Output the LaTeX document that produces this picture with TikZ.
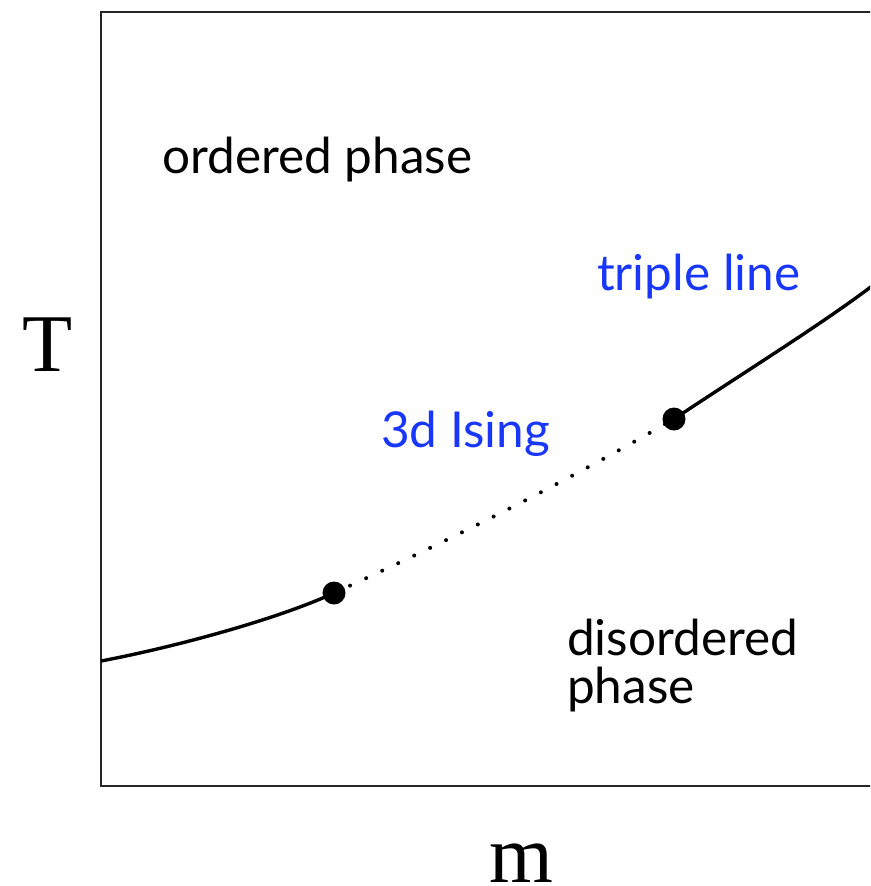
\documentclass[tikz,border=0pt]{standalone}
\usepackage{fontspec}
\newfontfamily\labelfont{Lato}
\newfontfamily\axisfont{Liberation Serif}
\definecolor{labelblue}{RGB}{25,55,250}
\begin{document}
\begin{tikzpicture}[x=1pt,y=-1pt,
  region/.style={anchor=base west,inner sep=0pt,font=\labelfont\fontsize{49.5}{49.5}\selectfont},
  bluelabel/.style={region,text=labelblue},
  axislabel/.style={anchor=base,inner sep=0pt,font=\axisfont\fontsize{82}{82}\selectfont},
  crit/.style={circle,fill=black,inner sep=0pt,minimum size=23pt},
  phaseline/.style={line width=3.4pt},
  frame/.style={line width=2.2pt,draw=black!85}]
\useasboundingbox (0,0) rectangle (870,886);
\clip (0,0) rectangle (870,886);
\draw[frame] (872,12) -- (101,12) -- (101,786) -- (872,786);
\coordinate (L) at (101,661);
\coordinate (R) at (872,286);
\node[crit] (p1) at (334,593) {};
\node[crit] (p2) at (674,419) {};
\draw[phaseline] (L) .. controls (180,646) and (280,618) .. (p1.center);
\draw[line width=4pt,line cap=round,dash pattern=on 0pt off 17.7pt] (p1.center) .. controls (450,540) and (560,485) .. (p2.center);
\draw[phaseline] (p2.center) .. controls (740,375) and (822,324) .. (R);
\node[region] (ord) at (162,173) {ordered phase};
\node[bluelabel] (tri) at (597,290) {triple line};
\node[bluelabel] (ising) at (381,447) {3d Ising};
\node[region] (dis1) at (567,655) {disordered};
\node[region] (dis2) at (567,703) {phase};
\node[axislabel] (T) at (48,371) {T};
\node[axislabel] (m) at (521,882) {m};
\end{tikzpicture}
\end{document}
